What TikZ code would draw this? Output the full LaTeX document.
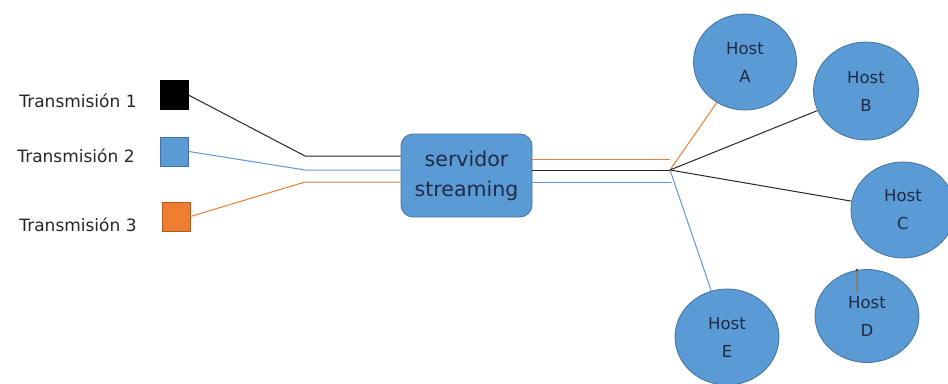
\documentclass[tikz,border=0pt]{standalone}
\usepackage{fontspec}
\setmainfont{DejaVu Sans}
\usetikzlibrary{shapes.geometric}
\definecolor{obl}{HTML}{5B9BD5}
\definecolor{obd}{HTML}{41719C}
\definecolor{oor}{HTML}{ED7D31}
\definecolor{oord}{HTML}{AE5A21}
\definecolor{txtd}{HTML}{1F2A44}
\begin{document}
\begin{tikzpicture}[x=1pt,y=-1pt,
  lbl/.style={font=\fontsize{17}{20}\selectfont, text=black!85, inner sep=0pt},
  sq/.style={minimum width=28pt, minimum height=29pt, inner sep=0pt, draw, line width=0.8pt},
  hostnode/.style={ellipse, fill=obl, draw=obd, line width=0.8pt, minimum width=104pt, minimum height=96pt, inner sep=0pt, align=center, text=txtd, font=\fontsize{16.5}{28}\selectfont},
  wire/.style={line width=1pt}
]
\useasboundingbox (0,0) rectangle (948,383);
% labels
\node[lbl] (t1) at (78,101) {Transmisión 1};
\node[lbl] (t2) at (76,156) {Transmisión 2};
\node[lbl] (t3) at (78,225) {Transmisión 3};
% squares
\node[sq, fill=black, draw=black] (s1) at (174,95) {};
\node[sq, fill=obl, draw=obd] (s2) at (174.5,151.5) {};
\node[sq, fill=oor, draw=oord] (s3) at (176,216.5) {};
% server
\node[draw=obd, fill=obl, line width=0.8pt, rounded corners=12pt, minimum width=131pt, minimum height=83pt, align=center, text=txtd, font=\fontsize{20.5}{30}\selectfont] (srv) at (466.5,175.5) {servidor\\streaming};
% hosts
\node[hostnode, minimum width=103pt] (hA) at (745,62) {Host\\A};
\node[hostnode, minimum width=105pt, minimum height=98pt] (hB) at (866,91) {Host\\B};
\node[hostnode] (hC) at (903,210) {Host\\C};
\node[hostnode, minimum height=93pt] (hD) at (867,316) {Host\\D};
\node[hostnode] (hE) at (727,337) {Host\\E};
% bend points
\coordinate (b1) at (305,156);
\coordinate (b2) at (305,170);
\coordinate (b3) at (305,182);
\coordinate (o1) at (670,159);
\coordinate (J) at (670,170);
\coordinate (u1) at (672,182);
% left wires
\draw[wire, black!85] (s1.east) -- (b1) -- (srv.west |- b1);
\draw[wire, obl] (s2.east) -- (b2) -- (srv.west |- b2);
\draw[wire, oor] (s3.east) -- (b3) -- (srv.west |- b3);
% right wires
\draw[wire, oor] (srv.east |- o1) -- (o1);
\draw[wire, black!85] (srv.east |- J) -- (J);
\draw[wire, obl] (srv.east |- u1) -- (u1);
\draw[wire, oor] (J) -- (hA);
\draw[wire, black!85] (J) -- (hB);
\draw[wire, black!85] (J) -- (hC);
\draw[wire, obl] (J) -- (hE);
% stub on host D
\coordinate (d1) at (857,270);
\coordinate (d2) at (857,293);
\draw[line width=2pt, black!50] (d1) -- (d2);
\fill[black!75] (d1) circle (1.3pt);
\end{tikzpicture}
\end{document}
